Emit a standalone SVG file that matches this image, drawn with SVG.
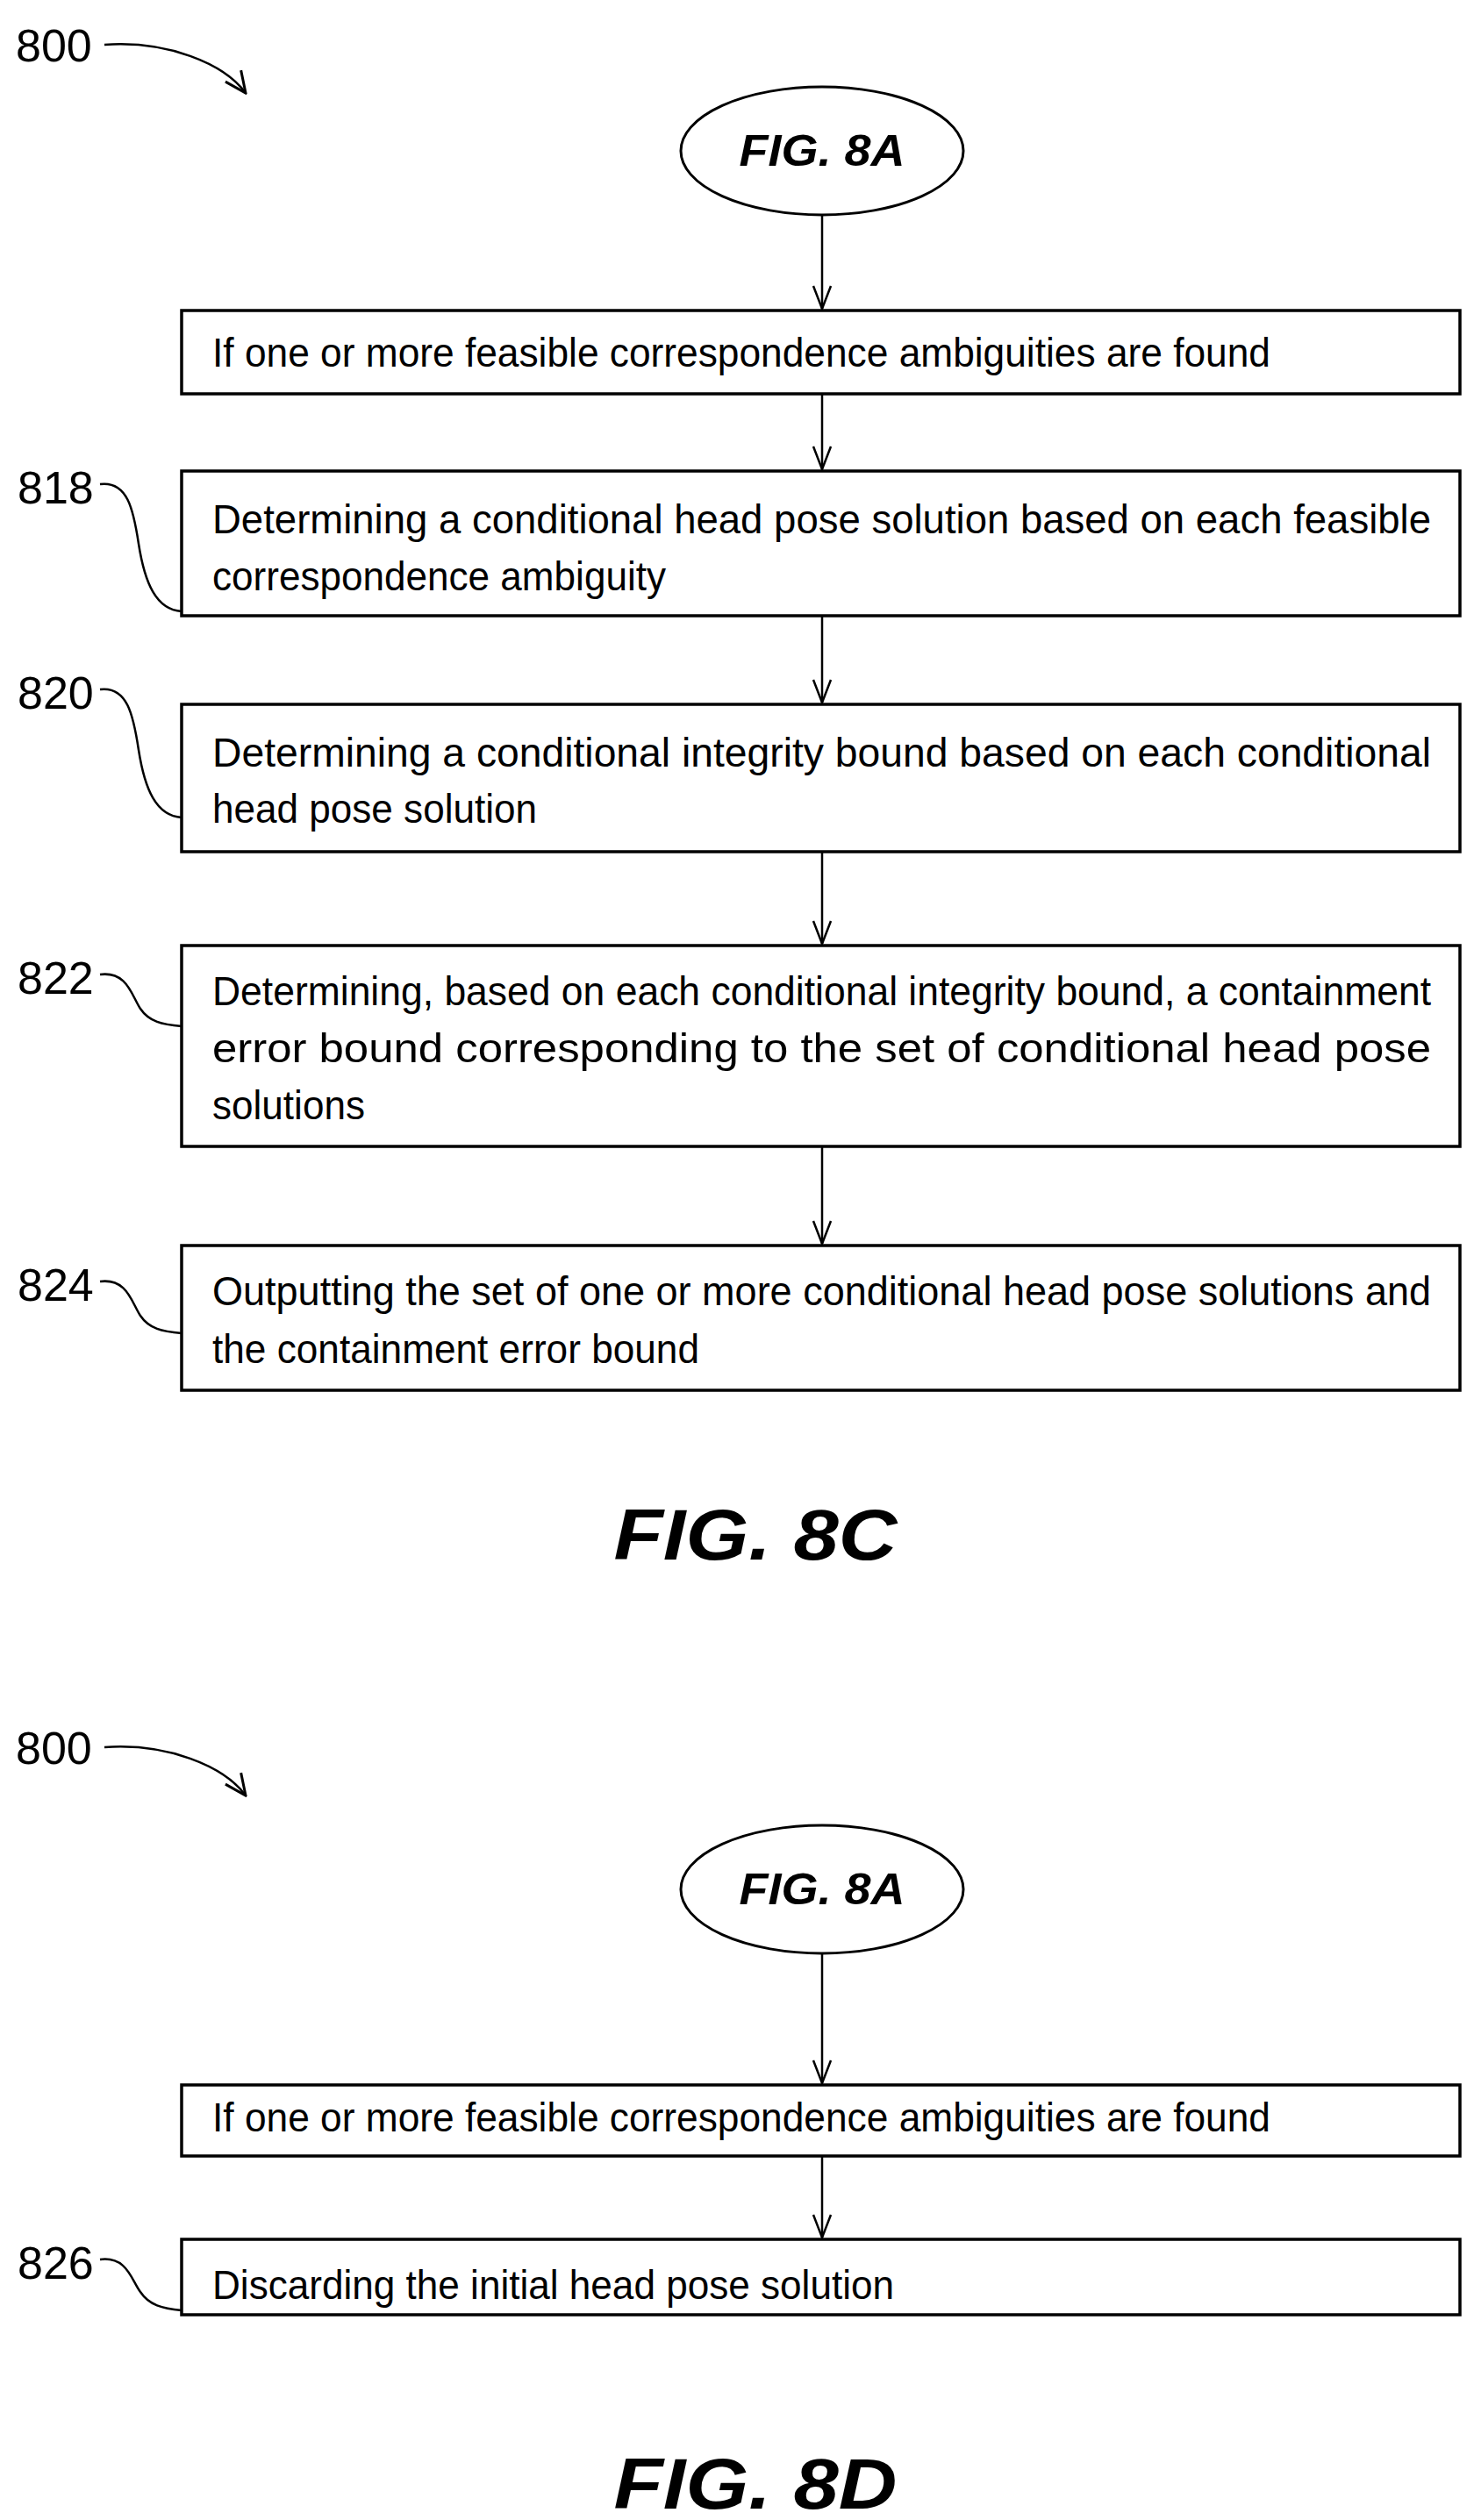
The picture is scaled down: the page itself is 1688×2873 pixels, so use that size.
<svg xmlns="http://www.w3.org/2000/svg" width="1688" height="2873" viewBox="0 0 1688 2873">
<style>
.box{fill:#fff;stroke:#000;stroke-width:3.5}
.t{font-family:"Liberation Sans",Arial,sans-serif;font-size:46px;fill:#000}
.ref{font-family:"Liberation Sans",Arial,sans-serif;font-size:52px;fill:#000}
.c{fill:none;stroke:#000;stroke-width:2.5}
.fig{font-family:"Liberation Sans",Arial,sans-serif;font-weight:bold;font-style:italic;fill:#000}
</style>
<defs>
<marker id="a" markerWidth="30" markerHeight="24" refX="28" refY="12" orient="auto" markerUnits="userSpaceOnUse" viewBox="0 0 30 24">
<polyline points="2,2 28,12 2,22" fill="none" stroke="#000" stroke-width="2.5"/>
</marker>
<marker id="b" markerWidth="30" markerHeight="30" refX="28" refY="15" orient="auto" markerUnits="userSpaceOnUse" viewBox="0 0 30 30">
<polyline points="4,4 28,15 4,26" fill="none" stroke="#000" stroke-width="3"/>
</marker>
</defs>
<g id="connectors">
<path class="c" d="M119,51 C190,46 255,72 280,106" marker-end="url(#b)"/>
<line class="c" x1="937" y1="246" x2="937" y2="352" marker-end="url(#a)"/>
<line class="c" x1="937" y1="449" x2="937" y2="535" marker-end="url(#a)"/>
<line class="c" x1="937" y1="702" x2="937" y2="801" marker-end="url(#a)"/>
<line class="c" x1="937" y1="971" x2="937" y2="1076" marker-end="url(#a)"/>
<line class="c" x1="937" y1="1307" x2="937" y2="1418" marker-end="url(#a)"/>
<path class="c" d="M114,552 C145,548 152,580 158,620 C165,665 178,695 207,697"/>
<path class="c" d="M114,786 C145,782 152,815 158,855 C165,900 178,930 207,932"/>
<path class="c" d="M114,1111 C145,1107 150,1135 160,1150 C170,1165 185,1168 207,1170"/>
<path class="c" d="M114,1461 C145,1457 150,1485 160,1500 C170,1515 185,1518 207,1520"/>
<path class="c" d="M119,1992 C190,1987 255,2013 280,2047" marker-end="url(#b)"/>
<line class="c" x1="937" y1="2227" x2="937" y2="2375" marker-end="url(#a)"/>
<line class="c" x1="937" y1="2458" x2="937" y2="2551" marker-end="url(#a)"/>
<path class="c" d="M114,2576 C145,2572 150,2600 160,2613 C170,2628 185,2632 207,2634"/>
</g>
<g id="label800a"><text class="ref" x="18" y="70">800</text></g>
<g id="start1"><ellipse cx="937" cy="172" rx="161" ry="73" fill="#fff" stroke="#000" stroke-width="3"/><text class="fig" x="937" y="189" font-size="50" text-anchor="middle" textLength="189" lengthAdjust="spacingAndGlyphs">FIG. 8A</text></g>
<g id="box1"><rect class="box" x="207" y="354" width="1457" height="95"/><text class="t" x="242" y="418" textLength="1206" lengthAdjust="spacingAndGlyphs">If one or more feasible correspondence ambiguities are found</text></g>
<g id="n818"><text class="ref" x="20" y="574">818</text><rect class="box" x="207" y="537" width="1457" height="165"/>
<text class="t" x="242" y="608" textLength="1389" lengthAdjust="spacingAndGlyphs">Determining a conditional head pose solution based on each feasible</text>
<text class="t" x="242" y="673" textLength="517" lengthAdjust="spacingAndGlyphs">correspondence ambiguity</text></g>
<g id="n820"><text class="ref" x="20" y="808">820</text><rect class="box" x="207" y="803" width="1457" height="168"/>
<text class="t" x="242" y="874" textLength="1389" lengthAdjust="spacingAndGlyphs">Determining a conditional integrity bound based on each conditional</text>
<text class="t" x="242" y="938" textLength="370" lengthAdjust="spacingAndGlyphs">head pose solution</text></g>
<g id="n822"><text class="ref" x="20" y="1133">822</text><rect class="box" x="207" y="1078" width="1457" height="229"/>
<text class="t" x="242" y="1146" textLength="1389" lengthAdjust="spacingAndGlyphs">Determining, based on each conditional integrity bound, a containment</text>
<text class="t" x="242" y="1211" textLength="1389" lengthAdjust="spacingAndGlyphs">error bound corresponding to the set of conditional head pose</text>
<text class="t" x="242" y="1276" textLength="174" lengthAdjust="spacingAndGlyphs">solutions</text></g>
<g id="n824"><text class="ref" x="20" y="1483">824</text><rect class="box" x="207" y="1420" width="1457" height="165"/>
<text class="t" x="242" y="1488" textLength="1389" lengthAdjust="spacingAndGlyphs">Outputting the set of one or more conditional head pose solutions and</text>
<text class="t" x="242" y="1554" textLength="555" lengthAdjust="spacingAndGlyphs">the containment error bound</text></g>
<g id="fig8c"><text class="fig" x="861" y="1778" font-size="82" text-anchor="middle" textLength="323" lengthAdjust="spacingAndGlyphs">FIG. 8C</text></g>
<g id="label800b"><text class="ref" x="18" y="2011">800</text></g>
<g id="start2"><ellipse cx="937" cy="2154" rx="161" ry="73" fill="#fff" stroke="#000" stroke-width="3"/><text class="fig" x="937" y="2171" font-size="50" text-anchor="middle" textLength="189" lengthAdjust="spacingAndGlyphs">FIG. 8A</text></g>
<g id="box2"><rect class="box" x="207" y="2377" width="1457" height="81"/><text class="t" x="242" y="2430" textLength="1206" lengthAdjust="spacingAndGlyphs">If one or more feasible correspondence ambiguities are found</text></g>
<g id="n826"><text class="ref" x="20" y="2598">826</text><rect class="box" x="207" y="2553" width="1457" height="86"/>
<text class="t" x="242" y="2621" textLength="777" lengthAdjust="spacingAndGlyphs">Discarding the initial head pose solution</text></g>
<g id="fig8d"><text class="fig" x="861" y="2860" font-size="82" text-anchor="middle" textLength="323" lengthAdjust="spacingAndGlyphs">FIG. 8D</text></g>
</svg>
